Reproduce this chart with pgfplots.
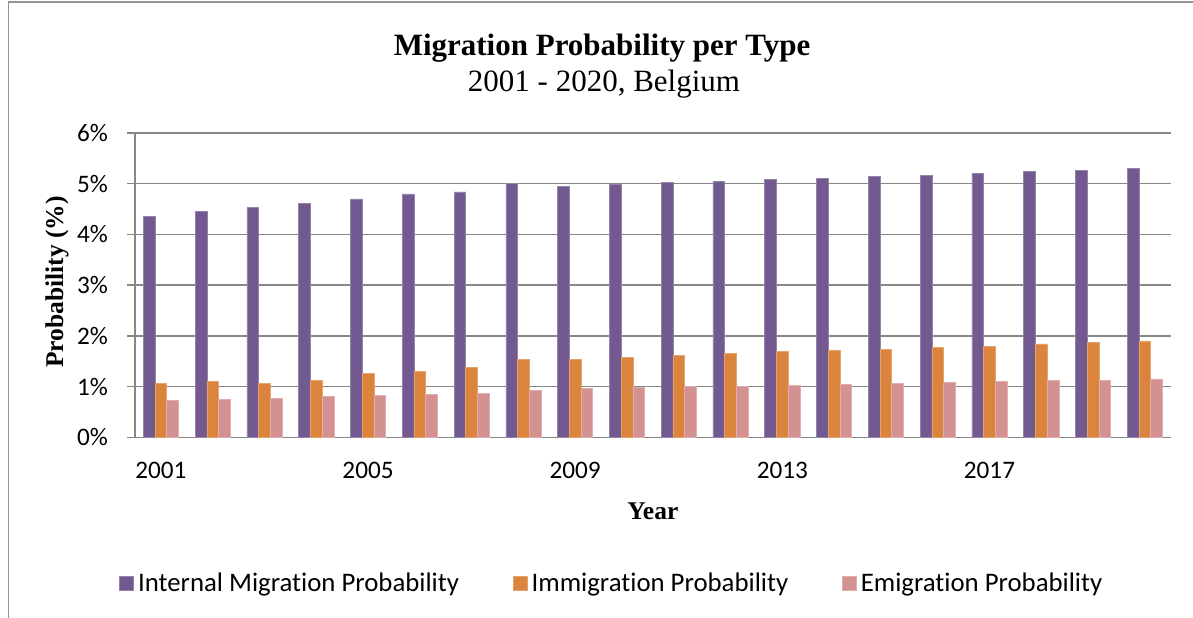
\documentclass[border=0pt]{standalone}
\usepackage{pgfplots}
\usepackage{pgfplotstable}
\pgfplotsset{compat=1.18}
\usepackage{fontspec}
\setmainfont{Liberation Serif}
\newfontfamily\calibri[Ligatures=NoCommon]{Carlito}

\definecolor{internal}{HTML}{725A91}
\definecolor{immig}{HTML}{DB843D}
\definecolor{emig}{HTML}{D39291}
\definecolor{gridgray}{HTML}{878787}

% Migration probabilities in percent, Belgium 2001-2020
\pgfplotstableread{
idx year internal immig emig
0  2001 4.35 1.07 0.73
1  2002 4.45 1.10 0.74
2  2003 4.53 1.07 0.76
3  2004 4.62 1.13 0.80
4  2005 4.70 1.26 0.83
5  2006 4.80 1.30 0.84
6  2007 4.84 1.38 0.86
7  2008 5.01 1.53 0.93
8  2009 4.95 1.54 0.96
9  2010 4.99 1.58 0.98
10 2011 5.02 1.61 1.00
11 2012 5.05 1.65 1.01
12 2013 5.08 1.69 1.03
13 2014 5.10 1.71 1.05
14 2015 5.14 1.74 1.07
15 2016 5.17 1.77 1.09
16 2017 5.20 1.80 1.11
17 2018 5.24 1.84 1.13
18 2019 5.27 1.87 1.13
19 2020 5.30 1.90 1.15
}\migration

\begin{document}
\begin{tikzpicture}
\path[use as bounding box] (0,0) rectangle (596.5pt,-308.5pt);
% chart frame
\draw[gridgray!90, line width=0.75pt] (4.2pt,-310pt) -- (4.2pt,-1pt) -- (600pt,-1pt);
% titles
\node[anchor=base, inner sep=0pt, font=\fontsize{15.5}{18}\selectfont\bfseries]
  at (301pt,-27.5pt) {Migration Probability per Type};
\node[anchor=base, inner sep=0pt, font=\fontsize{15.5}{18}\selectfont]
  at (302pt,-45.85pt) {2001 - 2020, Belgium};

\begin{axis}[
  at={(67.5pt,-218.65pt)}, anchor=south west,
  scale only axis, width=517.85pt, height=152.15pt,
  ybar=0pt, bar width=5.85pt,
  xmin=-0.5, xmax=19.5, ymin=0, ymax=6,
  xtick={0,4,8,12,16}, xticklabels={2001,2005,2009,2013,2017},
  ytick={0,1,2,3,4,5,6}, yticklabels={0\%,1\%,2\%,3\%,4\%,5\%,6\%},
  axis x line*=bottom, axis y line*=left,
  axis line style={gridgray, line width=0.75pt},
  ymajorgrids, grid style={gridgray, line width=0.75pt},
  tick align=outside, major tick length=4pt,
  ytick style={gridgray, line width=0.75pt},
  xtick style={draw=none},
  ticklabel style={font=\calibri\fontsize{12.6}{15}\selectfont},
  xticklabel style={yshift=-5pt},
  yticklabel style={xshift=-6pt},
  xlabel={Year}, ylabel={Probability (\%)},
  xlabel style={font=\bfseries\fontsize{12.75}{15}\selectfont,
    at={(axis description cs:0.5,-0.242)}, anchor=center},
  ylabel style={font=\bfseries\fontsize{12.75}{15}\selectfont,
    at={(axis description cs:-0.0753,0.51)}, anchor=center},
  legend columns=3,
  legend image code/.code={\fill[#1] (0pt,-3.5pt) rectangle (7pt,3.5pt);},
  legend style={draw=none, fill=none, inner sep=0pt,
    at={(axis description cs:-0.0154,-0.481)}, anchor=west,
    font=\calibri\fontsize{13.4}{16}\selectfont,
    /tikz/every even column/.append style={column sep=25pt}},
]
\addplot[fill=internal, draw=internal!75!white, line width=0.3pt]
  table[x=idx, y=internal] {\migration};
\addplot[fill=immig, draw=immig!75!white, line width=0.3pt]
  table[x=idx, y=immig] {\migration};
\addplot[fill=emig, draw=emig!75!white, line width=0.3pt]
  table[x=idx, y=emig] {\migration};
\legend{Internal Migration Probability, Immigration Probability, Emigration Probability}
\end{axis}
\end{tikzpicture}
\end{document}
